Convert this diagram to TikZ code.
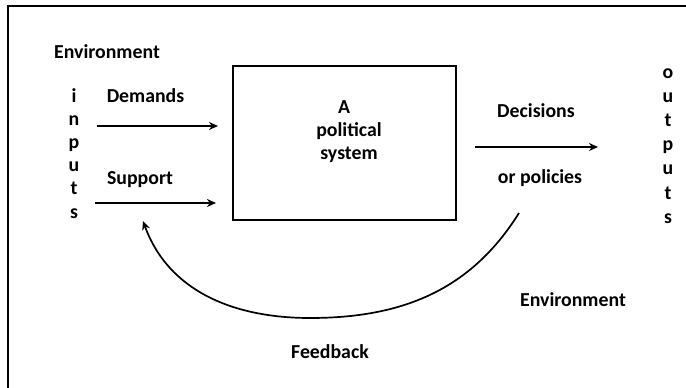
\documentclass[tikz,border=0pt]{standalone}
\usepackage{fontspec}
\setmainfont{Carlito}
\usetikzlibrary{arrows.meta}
\begin{document}
\begin{tikzpicture}[x=1pt,y=-1pt,
  lab/.style={inner sep=0pt, anchor=base, font=\fontsize{19.8}{23}\selectfont\bfseries},
  flow/.style={line width=2.2pt, -{Stealth[length=9pt,width=8pt]}},
  fb/.style={line width=1.7pt, -{Stealth[length=9pt,width=8pt]}},
  sysbox/.style={draw, line width=2.4pt, minimum width=223pt, minimum height=154pt, inner sep=0pt}]
\useasboundingbox (0,0) rectangle (686,388);
% frame
\draw[line width=2.4pt] (8,388) -- (8,6) -- (686,6);
% labels
\node[lab] (envtop) at (107,58) {Environment};
\foreach \ch [count=\k] in {i,n,p,u,t,s}
  \node[lab] (in\k) at (74,{102+23.2*(\k-1)}) {\ch};
\foreach \ch [count=\k] in {o,u,t,p,u,t,s}
  \node[lab] (out\k) at (668,{78+24.2*(\k-1)}) {\ch};
\node[lab] (dem) at (145.5,102) {Demands};
\node[lab] (sup) at (140,184) {Support};
\node[sysbox] (sys) at (344.5,143) {};
\node[lab] (a) at (344,113) {A};
\node[lab] (pol) at (349,136) {political};
\node[lab] (syst) at (349,159) {system};
\node[lab] (dec) at (536,117) {Decisions};
\node[lab] (orp) at (540,183) {or policies};
\node[lab] (envbot) at (573,306) {Environment};
\node[lab] (feed) at (330,358) {Feedback};
% connector end points
\coordinate (d1) at (97,126);
\coordinate (d2) at (218,126);
\coordinate (s1) at (95,203);
\coordinate (s2) at (216,203);
\coordinate (o1) at (475,147);
\coordinate (o2) at (598,147);
\coordinate (f1) at (519,213);
\coordinate (fb) at (310,318);
\coordinate (f2) at (143,221);
% arrows
\draw[flow] (d1) -- (d2);
\draw[flow] (s1) -- (s2);
\draw[flow] (o1) -- (o2);
\draw[fb] (f1) to[out=-122,in=0] (fb) to[out=180,in=-70] (f2);
\end{tikzpicture}
\end{document}
